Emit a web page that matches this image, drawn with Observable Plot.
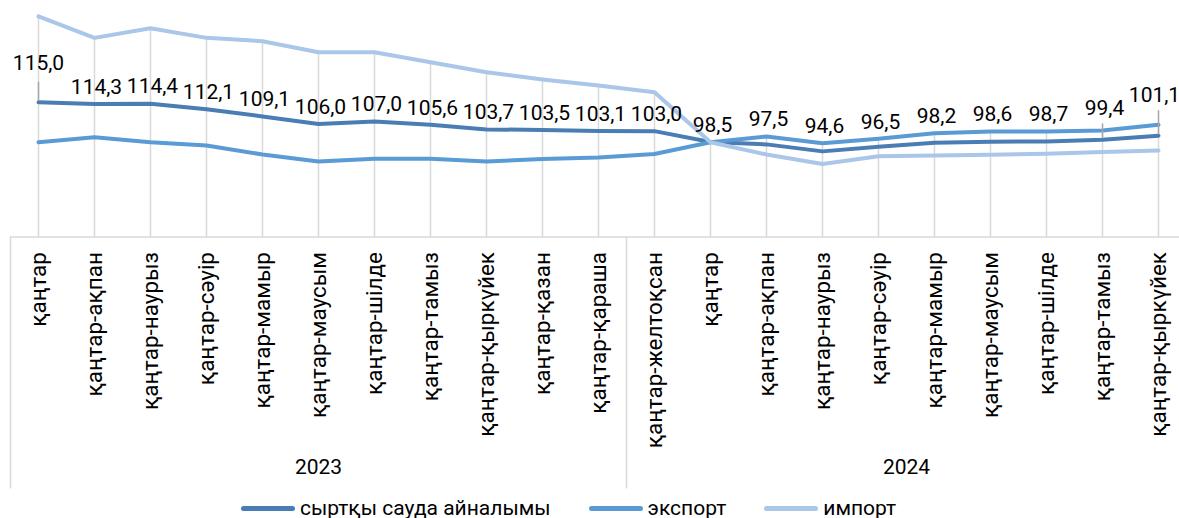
<!DOCTYPE html>
<html><head><meta charset="utf-8">
<script src="https://cdn.jsdelivr.net/npm/d3@7"></script>
<script src="https://cdn.jsdelivr.net/npm/@observablehq/plot@0.6"></script>
<style>
body{margin:0;background:#fff;font-family:Roboto,sans-serif;color:#000;}
#legend{position:relative;height:36px;display:flex;align-items:center;padding-left:241px;font-size:21px;}
.item{display:flex;align-items:center;margin-right:38px;}
.sw{width:54px;height:5px;border-radius:3px;margin-right:5px;}
</style></head><body><div id="chart"></div><div id="legend"></div>
<script>
const categories = ["қаңтар","қаңтар-ақпан","қаңтар-наурыз","қаңтар-сәуір","қаңтар-мамыр","қаңтар-маусым","қаңтар-шілде","қаңтар-тамыз","қаңтар-қыркүйек","қаңтар-қазан","қаңтар-қараша","қаңтар-желтоқсан","қаңтар","қаңтар-ақпан","қаңтар-наурыз","қаңтар-сәуір","қаңтар-мамыр","қаңтар-маусым","қаңтар-шілде","қаңтар-тамыз","қаңтар-қыркүйек"];
const years = ["2023","2024"];
const yearSizes = [11, 10];
const turnover = [115.0,114.3,114.4,112.1,109.1,106.0,107.0,105.6,103.7,103.5,103.1,103.0,98.5,97.5,94.6,96.5,98.2,98.6,98.7,99.4,101.1];
const exportVals = [98.4,100.5,98.4,97.0,93.3,90.4,91.5,91.5,90.4,91.4,92.1,93.5,98.4,100.8,98.0,99.8,102.1,102.8,102.8,103.3,105.6];
const importVals = [150.6,141.7,145.7,141.7,140.3,135.7,135.7,131.6,127.4,124.4,121.9,119.1,98.4,93.3,89.4,92.6,92.9,93.2,93.6,94.3,95.0];
const seriesNames = ["сыртқы сауда айналымы","экспорт","импорт"];
const colors = ["#4a7db4","#5b9bd5","#aac6e8"];

const n = categories.length;
const idx = d3.range(n);
const yMin = 59.07, yMax = 157.2;
const seriesVals = [turnover, exportVals, importVals];
const rows = seriesNames.flatMap((s, k) => idx.map(i => ({i, v: seriesVals[k][i], s})));
const fmt = v => v.toFixed(1).replace(".", ",");

// year groups
let start = 0;
const groups = yearSizes.map((sz, g) => { const o = {year: years[g], start, center: start + (sz - 1) / 2}; start += sz; return o; });
const seps = [-0.5, ...groups.slice(1).map(g => g.start - 0.5), n - 0.5];

const special = {0: [-39, 0], 19: [-32, 2], 20: [-40, -4]};
const leader = {0: 20, 19: 16, 20: 25};
const regular = idx.filter(i => !(i in special));

const marks = [
  Plot.ruleX(idx, {x: i => i, y1: yMin, y2: i => Math.max(turnover[i], exportVals[i], importVals[i]), stroke: "#d9d9d9", strokeWidth: 1.5}),
  Plot.ruleY([yMin], {x1: -0.5, x2: n - 0.5, stroke: "#d9d9d9", strokeWidth: 1.5}),
  Plot.ruleX(seps, {x: d => d, insetTop: 236.5, insetBottom: -252, stroke: "#d9d9d9", strokeWidth: 1.5}),
  Plot.line(rows, {x: "i", y: "v", z: "s", stroke: "s", strokeWidth: 4, strokeLinejoin: "round", strokeLinecap: "round"}),
  Plot.axisX(idx, {anchor: "bottom", tickFormat: i => categories[i], tickRotate: -90, tickSize: 0, tickPadding: 15, fontSize: 22.5, fill: "#000", label: null}),
  Plot.text(groups, {x: "center", text: "year", frameAnchor: "bottom", dy: 236.5, fontSize: 21, fill: "#000"}),
  Plot.text(regular, {x: i => i, y: i => Math.max(turnover[i], exportVals[i]), text: i => fmt(turnover[i]), dy: -17, dx: 2, fontSize: 21, fill: "#000"})
];
for (const k of Object.keys(special)) {
  const i = +k;
  marks.push(Plot.text([i], {x: d => d, y: d => turnover[d], text: d => fmt(turnover[d]), dy: special[k][0], dx: special[k][1], fontSize: 21, fill: "#000"}));
  marks.push(Plot.ruleX([i], {x: d => d, y1: d => turnover[d], y2: d => turnover[d], insetTop: -leader[k], insetBottom: 1, stroke: "#a6a6a6", strokeWidth: 1.5}));
}

const chart = Plot.plot({
  width: 1179, height: 490,
  marginTop: 0, marginBottom: 490 - 236.5, marginLeft: 10, marginRight: 0,
  style: {fontFamily: "Roboto, sans-serif", fontSize: "21px", color: "#000", background: "#fff", overflow: "visible"},
  x: {type: "linear", domain: [-0.5, n - 0.5], range: [10, 1186], axis: null},
  y: {domain: [yMin, yMax], axis: null},
  color: {domain: seriesNames, range: colors},
  marks
});
document.getElementById("chart").appendChild(chart);

const leg = document.getElementById("legend");
seriesNames.forEach((s, k) => {
  const it = document.createElement("div"); it.className = "item";
  const sw = document.createElement("div"); sw.className = "sw"; sw.style.background = colors[k];
  const tx = document.createElement("span"); tx.textContent = s;
  it.appendChild(sw); it.appendChild(tx); leg.appendChild(it);
});
</script></body></html>
